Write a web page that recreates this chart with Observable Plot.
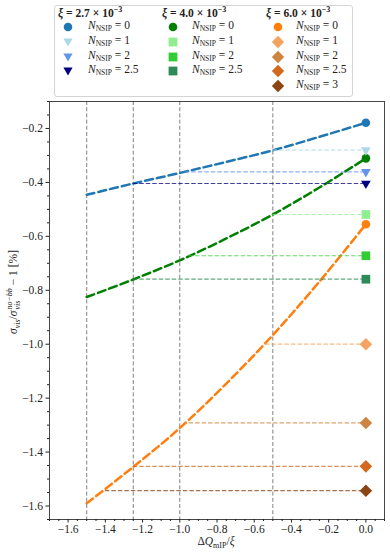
<!DOCTYPE html>
<html><head><meta charset="utf-8">
<script src="https://cdn.jsdelivr.net/npm/d3@7"></script>
<script src="https://cdn.jsdelivr.net/npm/@observablehq/plot@0.6"></script>
<style>
body{margin:0;background:#fff;font-family:"Liberation Serif",serif;color:#222;}
#wrap{position:relative;width:390px;height:554px;overflow:hidden;}
#legend{position:absolute;left:54px;top:5px;width:297px;height:90px;border:1px solid #d4d4d4;border-radius:3px;background:rgba(255,255,255,0.85);}
.lg{position:absolute;white-space:nowrap;font-size:11.5px;line-height:12px;transform:translateY(-50%);}
.hd{font-weight:bold;}
.lg sub{font-size:7.5px;vertical-align:-2px;}
.lg sup{font-size:8px;vertical-align:5px;}
.mk{position:absolute;}
.ax{position:absolute;white-space:nowrap;font-size:11.5px;line-height:13px;}
.ax sub{font-size:8px;vertical-align:-3px;line-height:8px;}
.ss{display:inline-flex;flex-direction:column;vertical-align:middle;font-size:8px;line-height:8px;font-style:italic;margin-left:1px;}
svg.plot{position:absolute;left:0;top:0;}
</style></head><body><div id="wrap"></div>
<script>
// ---------- data ----------
const xiLabels = ["2.7", "4.0", "6.0"];
const dqPoints = [-1.5, -1.25, -1.0, -0.75, -0.5, -0.25, 0.0];
const sigmaXi27 = [-0.446, -0.404, -0.365, -0.324, -0.281, -0.231, -0.179];
const sigmaXi40 = [-0.825, -0.760, -0.689, -0.608, -0.519, -0.419, -0.311];
const sigmaXi60 = [-1.590, -1.455, -1.311, -1.146, -0.966, -0.768, -0.555];

const nsipXi27 = [1, 2, 2.5];
const levelXi27 = [-0.280, -0.361, -0.404];
const startXi27 = [-0.5, -0.97, -1.25];
const nsipXi40 = [1, 2, 2.5];
const levelXi40 = [-0.519, -0.672, -0.759];
const startXi40 = [-0.5, -0.95, -1.25];
const nsipXi60 = [1, 2, 2.5, 3];
const levelXi60 = [-1.000, -1.292, -1.453, -1.543];
const startXi60 = [-0.54, -0.95, -1.25, -1.40];

const markerDq = 0.0;
const vlineDq = [-1.5, -1.25, -1.0, -0.5];
const xTicks = [-1.6, -1.4, -1.2, -1.0, -0.8, -0.6, -0.4, -0.2, 0.0];
const yTicks = [-1.6, -1.4, -1.2, -1.0, -0.8, -0.6, -0.4, -0.2];

// ---------- styles ----------
const baseColors = ["#1f77b4", "#008000", "#ff7f0e"];
const colorsXi27 = ["#add8e6", "#6495ed", "#000080"];
const colorsXi40 = ["#90ee90", "#32cd32", "#2e8b57"];
const colorsXi60 = ["#f4a460", "#cd853f", "#d2691e", "#8b4513"];

const sigmas = [sigmaXi27, sigmaXi40, sigmaXi60];
const nsips = [nsipXi27, nsipXi40, nsipXi60];
const levels = [levelXi27, levelXi40, levelXi60];
const starts = [startXi27, startXi40, startXi60];
const colors = [colorsXi27, colorsXi40, colorsXi60];

const curves = [];
sigmas.forEach((s, g) => s.forEach((v, i) => curves.push({g, x: dqPoints[i], y: v, color: baseColors[g]})));
const segs = [];
levels.forEach((l, g) => l.forEach((v, i) => segs.push({g, x1: starts[g][i], x2: markerDq, y: v, color: colors[g][i]})));
const baseDots = sigmas.map((s, g) => ({x: markerDq, y: s[s.length - 1], color: baseColors[g]}));
const levelDots = g => levels[g].map((v, i) => ({x: markerDq, y: v, color: colors[g][i]}));

const minorX = d3.range(-34, 3).map(k => k * 0.05).filter(v => !xTicks.some(t => Math.abs(t - v) < 1e-6));
const minorY = d3.range(-33, -1).map(k => k * 0.05).filter(v => !yTicks.some(t => Math.abs(t - v) < 1e-6));
const fmt = d => (d < 0 ? "\u2212" : "") + Math.abs(d).toFixed(1);

const chart = Plot.plot({
  width: 390, height: 554,
  marginLeft: 49, marginRight: 6, marginTop: 101, marginBottom: 35,
  style: {fontFamily: "Liberation Serif, serif", fontSize: "11.5px", color: "#222", background: "transparent"},
  x: {domain: [-1.7, 0.1]},
  y: {domain: [-1.65, -0.1]},
  marks: [
    Plot.ruleX(vlineDq, {stroke: "#808080", strokeWidth: 1, strokeDasharray: "4,2.2"}),
    Plot.line(curves, {x: "x", y: "y", z: "g", stroke: "color", strokeWidth: 2.5, strokeDasharray: "8,4", curve: "catmull-rom"}),
    Plot.ruleY(segs, {y: "y", x1: "x1", x2: "x2", stroke: "color", strokeOpacity: 0.75, strokeWidth: 1.2, strokeDasharray: "4.5,2"}),
    Plot.dot(baseDots, {x: "x", y: "y", fill: "color", r: 4.3, symbol: "circle"}),
    Plot.dot(levelDots(0), {x: "x", y: "y", fill: "color", r: 3.6, symbol: "triangle", rotate: 180}),
    Plot.dot(levelDots(1), {x: "x", y: "y", fill: "color", r: 4.9, symbol: "square"}),
    Plot.dot(levelDots(2), {x: "x", y: "y", fill: "color", r: 5.0, symbol: "square", rotate: 45}),
    Plot.frame({stroke: "#333", strokeWidth: 0.9}),
    Plot.axisX(xTicks, {tickSize: 3.5, tickPadding: 1.5, tickFormat: fmt, label: null}),
    Plot.axisX(minorX, {tickSize: 2, tickFormat: () => "", label: null}),
    Plot.axisY(yTicks, {tickSize: 3.5, tickPadding: 3, tickFormat: fmt, label: null}),
    Plot.axisY(minorY, {tickSize: 2, tickFormat: () => "", label: null})
  ]
});
chart.classList.add("plot");
const wrap = document.getElementById("wrap");
wrap.appendChild(chart);

// axis titles
const xl = document.createElement("div");
xl.className = "ax";
xl.style.left = "216px"; xl.style.top = "542px";
xl.style.transform = "translate(-50%,-50%)";
xl.innerHTML = "\u0394<i>Q</i><sub>mIP</sub>/<i>\u03be</i>";
wrap.appendChild(xl);

const yl = document.createElement("div");
yl.className = "ax";
yl.style.left = "14px"; yl.style.top = "292px";
yl.style.transform = "translate(-50%,-50%) rotate(-90deg)";
yl.innerHTML = "<i>\u03c3</i><sub><i>vis</i></sub>/<i>\u03c3</i><span class='ss'><span>no\u2212bb</span><span>vis</span></span> \u2212 1 [%]";
wrap.appendChild(yl);

// legend
const lgBox = document.createElement("div");
lgBox.id = "legend";
wrap.appendChild(lgBox);
const colX = [58, 162, 266];
const mkX = [68, 173, 278];
const txX = [88, 192, 296];
const rowY = [11, 27, 42, 57, 71, 86];
function symSvg(kind, color) {
  const s = {circle: `<circle cx="8" cy="8" r="4.3" fill="${color}"/>`,
    tri: `<path d="M3.4,4.4 L12.6,4.4 L8,12.4 Z" fill="${color}"/>`,
    square: `<rect x="3.6" y="3.6" width="8.8" height="8.8" fill="${color}"/>`,
    diamond: `<path d="M8,1.8 L14.2,8 L8,14.2 L1.8,8 Z" fill="${color}"/>`}[kind];
  return `<svg width="16" height="16">${s}</svg>`;
}
const symKinds = ["tri", "square", "diamond"];
xiLabels.forEach((xl, g) => {
  const h = document.createElement("div");
  h.className = "lg hd";
  h.style.left = colX[g] + "px"; h.style.top = rowY[0] + "px";
  h.innerHTML = `<i>\u03be</i> = ${xl} \u00d7 10<sup>\u22123</sup>`;
  wrap.appendChild(h);
  const entries = [{n: 0, kind: "circle", color: baseColors[g]}].concat(
    nsips[g].map((n, i) => ({n, kind: symKinds[g], color: colors[g][i]})));
  entries.forEach((e, r) => {
    const m = document.createElement("div");
    m.className = "mk";
    m.style.left = (mkX[g] - 8) + "px"; m.style.top = (rowY[r + 1] - 8) + "px";
    m.innerHTML = symSvg(e.kind, e.color);
    wrap.appendChild(m);
    const t = document.createElement("div");
    t.className = "lg";
    t.style.left = txX[g] + "px"; t.style.top = rowY[r + 1] + "px";
    t.innerHTML = `<i>N</i><sub>NSIP</sub> = ${e.n}`;
    wrap.appendChild(t);
  });
});
</script></body></html>
